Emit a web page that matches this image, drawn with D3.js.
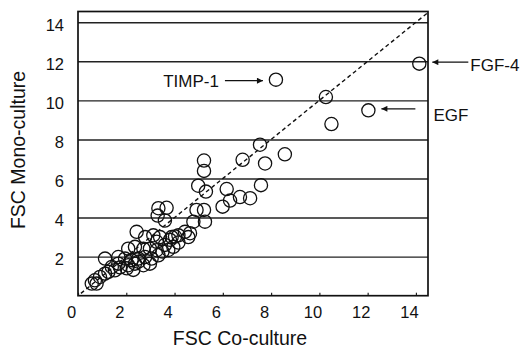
<!DOCTYPE html>
<html>
<head>
<meta charset="utf-8">
<script src="https://cdn.jsdelivr.net/npm/d3@7"></script>
<style>
  body { margin: 0; background: #fff; }
  svg { display: block; font-family: "Liberation Sans", Arial, sans-serif; }
</style>
</head>
<body>
<div class="chart"></div>
<script>
// FSC co-culture (x) vs mono-culture (y)
const coCulture = [
  14.14, 8.2, 10.27, 12.03, 10.5, 7.54, 8.57, 6.82, 7.75, 5.22, 5.22, 4.98, 5.30, 6.16, 7.58,
  6.30, 6.71, 7.13, 5.99, 4.91, 5.22, 4.78, 5.26,
  3.33, 3.67, 3.30, 3.60,
  2.43, 2.78, 3.12, 3.40, 3.26, 3.88, 4.16, 4.43, 4.64, 4.57, 4.02,
  4.16, 3.95, 3.60, 2.08, 2.36, 2.71, 2.98, 3.26, 3.50, 3.81,
  1.12, 1.67, 1.95, 2.22, 2.50, 2.78, 3.05, 3.33, 3.74,
  2.08, 2.36, 2.71, 2.98, 1.67, 2.50,
  1.40, 1.53, 1.12, 1.26, 0.91, 0.70, 0.57, 0.77, 2.02, 2.29, 1.74
];
const monoCulture = [
  11.88, 11.06, 10.17, 9.49, 8.79, 7.73, 7.24, 6.96, 6.77, 6.92, 6.39, 5.63, 5.33, 5.46, 5.66,
  4.87, 5.05, 4.99, 4.56, 4.39, 4.39, 3.79, 3.79,
  4.48, 4.50, 4.10, 3.85,
  3.27, 3.00, 3.09, 3.00, 2.76, 3.00, 3.09, 3.27, 3.20, 3.00, 3.03,
  2.72, 2.50, 2.60, 2.41, 2.50, 2.41, 2.41, 2.33, 2.26, 2.86,
  1.90, 1.98, 1.90, 1.82, 1.90, 1.98, 1.90, 2.07, 2.34,
  1.56, 1.64, 1.56, 1.64, 1.64, 1.74,
  1.47, 1.30, 1.13, 1.22, 0.96, 0.79, 0.62, 0.62, 1.40, 1.32, 1.45
];
const xTicks = [0, 2, 4, 6, 8, 10, 12, 14];
const yTicks = [2, 4, 6, 8, 10, 12, 14];
const xTitle = 'FSC Co-culture';
const yTitle = 'FSC Mono-culture';
// labelled points: [label, x, y, side]
const callouts = [
  ['TIMP-1', 8.2, 11.06, 'left'],
  ['FGF-4', 14.14, 11.88, 'right'],
  ['EGF', 12.03, 9.49, 'right']
];

const W = 524, H = 348;
const plotL = 78, plotR = 428, plotT = 11.5, plotB = 295.7;

const svg = d3.select('.chart').append('svg')
  .attr('width', W)
  .attr('height', H)
  .attr('viewBox', '0 0 ' + W + ' ' + H);

const x = d3.scaleLinear().domain([0, 14.5]).range([plotL, plotR]);
const y = d3.scaleLinear().domain([0, 14.55]).range([plotB, plotT]);

svg.append('defs').append('marker')
  .attr('id', 'head')
  .attr('viewBox', '0 0 10 10')
  .attr('refX', 10).attr('refY', 5)
  .attr('markerWidth', 9).attr('markerHeight', 6)
  .attr('markerUnits', 'userSpaceOnUse')
  .attr('orient', 'auto')
  .append('path')
  .attr('d', 'M0,0L10,5L0,10z')
  .attr('fill', '#111');

// horizontal grid lines + y labels
const yAxis = svg.append('g')
  .attr('transform', 'translate(' + plotL + ',0)')
  .call(d3.axisLeft(y).tickValues(yTicks).tickSize(-(plotR - plotL)).tickPadding(14));
yAxis.select('.domain').remove();
yAxis.selectAll('line').attr('stroke', '#222').attr('stroke-width', 1.4);
yAxis.selectAll('text')
  .attr('dy', '0.5em')
  .attr('fill', '#111')
  .style('font-size', '16.5px');

// x axis with small inward ticks
const xAxis = svg.append('g')
  .attr('transform', 'translate(0,' + plotB + ')')
  .call(d3.axisBottom(x).tickValues(xTicks).tickSize(-3).tickPadding(11));
xAxis.select('.domain').remove();
xAxis.selectAll('line').attr('stroke', '#222').attr('stroke-width', 1.2);
xAxis.selectAll('text')
  .attr('dx', -7)
  .attr('fill', '#111')
  .style('font-size', '16.5px');

// frame
svg.append('rect')
  .attr('x', plotL).attr('y', plotT)
  .attr('width', plotR - plotL).attr('height', plotB - plotT)
  .attr('fill', 'none')
  .attr('stroke', '#111')
  .attr('stroke-width', 1.7);

// identity line
svg.append('line')
  .attr('x1', x(0.12)).attr('y1', y(0.12))
  .attr('x2', x(14.5)).attr('y2', y(14.5))
  .attr('stroke', '#111')
  .attr('stroke-width', 1.4)
  .attr('stroke-dasharray', '4,3');

// points
svg.selectAll('.dot')
  .data(coCulture.map((d, i) => [d, monoCulture[i]]))
  .enter().append('circle')
  .attr('class', 'dot')
  .attr('cx', d => x(d[0]))
  .attr('cy', d => y(d[1]))
  .attr('r', 6.6)
  .attr('fill', 'none')
  .attr('stroke', '#111')
  .attr('stroke-width', 1.3);

// callouts
callouts.forEach(c => {
  const cx = x(c[1]), cy = y(c[2]);
  const g = svg.append('g');
  if (c[3] === 'left') {
    g.append('line')
      .attr('x1', cx - 51).attr('y1', cy + 1)
      .attr('x2', cx - 13).attr('y2', cy + 1)
      .attr('stroke', '#111').attr('stroke-width', 1.3)
      .attr('marker-end', 'url(#head)');
    g.append('text')
      .attr('x', cx - 57).attr('y', cy + 1)
      .attr('dy', '0.36em')
      .attr('text-anchor', 'end')
      .attr('fill', '#111')
      .style('font-size', '17px')
      .text(c[0]);
  } else if (c[0] === 'FGF-4') {
    g.append('line')
      .attr('x1', cx + 49).attr('y1', cy - 1.5)
      .attr('x2', cx + 13).attr('y2', cy - 1.5)
      .attr('stroke', '#111').attr('stroke-width', 1.3)
      .attr('marker-end', 'url(#head)');
    g.append('text')
      .attr('x', cx + 51).attr('y', cy + 1)
      .attr('dy', '0.36em')
      .attr('fill', '#111')
      .style('font-size', '17px')
      .text(c[0]);
  } else {
    g.append('line')
      .attr('x1', cx + 47).attr('y1', cy - 1.5)
      .attr('x2', cx + 13).attr('y2', cy - 1.5)
      .attr('stroke', '#111').attr('stroke-width', 1.3)
      .attr('marker-end', 'url(#head)');
    g.append('text')
      .attr('x', cx + 65).attr('y', cy + 4.5)
      .attr('dy', '0.36em')
      .attr('fill', '#111')
      .style('font-size', '17px')
      .text(c[0]);
  }
});

// axis titles
svg.append('text')
  .attr('x', 240).attr('y', 345)
  .attr('text-anchor', 'middle')
  .attr('fill', '#111')
  .style('font-size', '19.5px')
  .text(xTitle);

svg.append('text')
  .attr('transform', 'translate(25,150) rotate(-90)')
  .attr('text-anchor', 'middle')
  .attr('fill', '#111')
  .style('font-size', '19.5px')
  .text(yTitle);
</script>
</body>
</html>
